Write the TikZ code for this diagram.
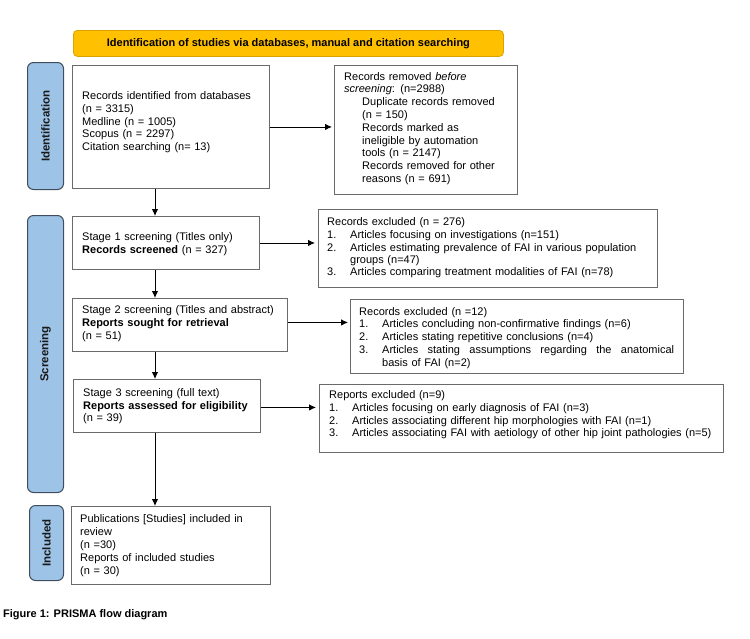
\documentclass[tikz,border=0pt]{standalone}
\usepackage{fontspec}
\setmainfont{Liberation Sans}
\usetikzlibrary{arrows.meta,calc}
\definecolor{bannerfill}{HTML}{FFC000}
\definecolor{bannerdraw}{HTML}{D9A300}
\definecolor{sidefill}{HTML}{9DC3E6}
\definecolor{sidedraw}{HTML}{3F4D5E}
\definecolor{boxdraw}{HTML}{6A6A6A}
\newcommand{\pitem}[3][300pt]{\makebox[23pt][l]{#2}\parbox[t]{#1}{\raggedright #3}\par}
\begin{document}
\begin{tikzpicture}[x=1pt,y=-1pt,
  box/.style={draw=boxdraw,line width=0.9pt,fill=white,inner sep=0pt,anchor=north west},
  txt/.style={inner sep=0pt,anchor=base west,text width=400pt,align=left,font={\fontsize{11}{12.8}\selectfont}},
  side/.style={draw=sidedraw,line width=1pt,fill=sidefill,rounded corners=6pt,inner sep=0pt,anchor=north west},
  sidelbl/.style={rotate=90,font={\fontsize{11.5}{13}\selectfont\bfseries},text=black!90,inner sep=0pt},
  banner/.style={draw=bannerdraw,line width=0.8pt,fill=bannerfill,rounded corners=4pt,inner sep=0pt,anchor=north west,font={\fontsize{11}{13}\selectfont\bfseries}},
  arr/.style={-{Latex[length=7pt,width=6.5pt]},line width=0.9pt,black}]
\useasboundingbox (0,0) rectangle (750,638);

% banner
\node[banner,minimum width=430pt,minimum height=26pt] (ban) at (73,30) {Identification of studies via databases, manual and citation searching};

% sidebars
\node[side,minimum width=36pt,minimum height=127pt] (s1) at (27,62) {};
\node[sidelbl] (l1) at (s1.center) {Identification};
\node[side,minimum width=36pt,minimum height=277pt] (s2) at (27,215) {};
\node[sidelbl] (l2) at (s2.center) {Screening};
\node[side,minimum width=34pt,minimum height=75pt] (s3) at (29,505) {};
\node[sidelbl] (l3) at (s3.center) {Included};

% boxes
\node[box,minimum width=197pt,minimum height=123pt] (b1) at (72,65) {};
\node[txt] (t1) at (82,99.5) {Records identified from databases\\(n = 3315)\\Medline (n = 1005)\\Scopus (n = 2297)\\Citation searching (n= 13)};

\node[box,minimum width=183pt,minimum height=129pt] (b2) at (334,65) {};
\node[txt] (t2) at (344,80) {Records removed \textit{before}\\\textit{screening}: (n=2988)\\
\hspace*{18pt}Duplicate records removed\\\hspace*{18pt}(n = 150)\\
\hspace*{18pt}Records marked as\\\hspace*{18pt}ineligible by automation\\\hspace*{18pt}tools (n = 2147)\\
\hspace*{18pt}Records removed for other\\\hspace*{18pt}reasons (n = 691)};

\node[box,minimum width=187pt,minimum height=53pt] (b3) at (72,216) {};
\node[txt] (t3) at (82,240.2) {Stage 1 screening (Titles only)\\\textbf{Records screened} (n = 327)};

\node[box,minimum width=339pt,minimum height=78pt] (e1) at (318,209) {};
\node[txt] (te1) at (327,225.5) {Records excluded (n = 276)\par
\pitem{1.}{Articles focusing on investigations (n=151)}
\pitem{2.}{Articles estimating prevalence of FAI in various population\\groups (n=47)}
\pitem{3.}{Articles comparing treatment modalities of FAI (n=78)}};

\node[box,minimum width=215pt,minimum height=53pt] (b4) at (72,298) {};
\node[txt] (t4) at (82,313.5) {Stage 2 screening (Titles and abstract)\\\textbf{Reports sought for retrieval}\\(n = 51)};

\node[box,minimum width=333pt,minimum height=74pt] (e2) at (350,299) {};
\node[txt] (te2) at (359,315) {Records excluded (n =12)\par
\pitem{1.}{Articles concluding non-confirmative findings (n=6)}
\pitem{2.}{Articles stating repetitive conclusions (n=4)}
\pitem[292pt]{3.}{Articles\hfill stating\hfill assumptions\hfill regarding\hfill the\hfill anatomical\\basis of FAI (n=2)}};

\node[box,minimum width=187pt,minimum height=53pt] (b5) at (73,379) {};
\node[txt] (t5) at (83,396.2) {Stage 3 screening (full text)\\\textbf{Reports assessed for eligibility}\\(n = 39)};

\node[box,minimum width=404pt,minimum height=68pt] (e3) at (319,384) {};
\node[txt] (te3) at (329,398.5) {Reports excluded (n=9)\par
\pitem[380pt]{1.}{Articles focusing on early diagnosis of FAI (n=3)}
\pitem[380pt]{2.}{Articles associating different hip morphologies with FAI (n=1)}
\pitem[380pt]{3.}{Articles associating FAI with aetiology of other hip joint pathologies (n=5)}};

\node[box,minimum width=199pt,minimum height=78pt] (b6) at (71,506) {};
\node[txt] (t6) at (80,522.8) {Publications [Studies] included in\\review\\(n =30)\\Reports of included studies\\(n = 30)};

% caption
\node[inner sep=0pt,anchor=base west,font={\fontsize{11}{13}\selectfont\bfseries}] (cap) at (3,617) {Figure 1: PRISMA flow diagram};

% connectors
\coordinate (vx) at (155,0);
\draw[arr] (b1.east) -- ([xshift=-2pt]b1.east -| b2.west);
\draw[arr] (b1.south -| vx) -- (b3.north -| vx);
\draw[arr] (b3.south -| vx) -- (b4.north -| vx);
\draw[arr] (b4.south -| vx) -- (b5.north -| vx);
\draw[arr] (b5.south -| vx) -- (b6.north -| vx);
\draw[arr] (b3.east) -- ([xshift=-3pt]b3.east -| e1.west);
\draw[arr] ([yshift=2.5pt]b4.east) -- ([yshift=2.5pt,xshift=-2pt]b4.east -| e2.west);
\draw[arr] ([yshift=-1.5pt]b5.east) -- ([yshift=-1.5pt,xshift=-3pt]b5.east -| e3.west);
\end{tikzpicture}
\end{document}
